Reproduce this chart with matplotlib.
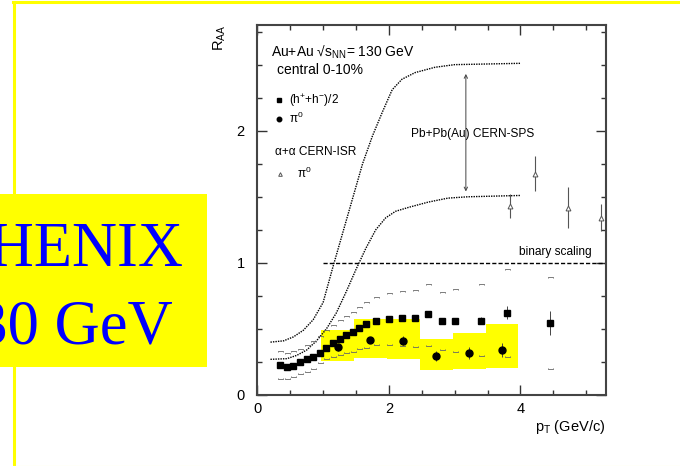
import numpy as np
import matplotlib
matplotlib.use("Agg")
import matplotlib.pyplot as plt
from matplotlib.path import Path
from matplotlib.patches import Rectangle
from matplotlib.lines import Line2D

plt.rcParams['font.family'] = ['Liberation Sans', 'DejaVu Sans']
plt.rcParams['mathtext.fontset'] = 'custom'
plt.rcParams['mathtext.rm'] = 'Liberation Sans'
plt.rcParams['mathtext.it'] = 'Liberation Sans:italic'
plt.rcParams['mathtext.sf'] = 'Liberation Sans'

# (h+ + h-)/2, central 0-10%
pt_h = [0.35, 0.45, 0.55, 0.65, 0.75, 0.85, 0.95, 1.05, 1.15, 1.25, 1.35, 1.45,
        1.55, 1.65, 1.8, 2.0, 2.2, 2.4, 2.6, 2.8, 3.0, 3.4, 3.8, 4.45]
raa_h = [0.224, 0.214, 0.222, 0.247, 0.270, 0.290, 0.320, 0.353, 0.390, 0.423, 0.453, 0.479,
         0.504, 0.537, 0.559, 0.574, 0.579, 0.579, 0.610, 0.557, 0.562, 0.562, 0.622, 0.547]
err_h = [0.005, 0.005, 0.005, 0.005, 0.005, 0.005, 0.005, 0.005, 0.005, 0.005, 0.005, 0.005,
         0.005, 0.005, 0.008, 0.01, 0.01, 0.012, 0.015, 0.015, 0.02, 0.025, 0.05, 0.09]
sys_hi_h = [0.335, 0.32, 0.33, 0.35, 0.38, 0.41, 0.45, 0.49, 0.53, 0.567, 0.597, 0.63,
            0.668, 0.705, 0.743, 0.769, 0.786, 0.794, 0.839, 0.779, 0.799, 0.839, 0.957, 0.89]
sys_lo_h = [0.118, 0.118, 0.138, 0.159, 0.176, 0.2, 0.24, 0.27, 0.29, 0.302, 0.315, 0.327,
            0.345, 0.353, 0.378, 0.378, 0.373, 0.365, 0.373, 0.34, 0.327, 0.295, 0.285, 0.2]

# pi0
pt_pi = [1.22, 1.72, 2.22, 2.72, 3.22, 3.72]
raa_pi = [0.36, 0.415, 0.41, 0.295, 0.315, 0.34]
err_pi = [0.025, 0.02, 0.035, 0.04, 0.045, 0.05]
box_lo_pi = [0.257, 0.282, 0.272, 0.189, 0.199, 0.204]
box_hi_pi = [0.491, 0.572, 0.572, 0.423, 0.471, 0.537]

# alpha+alpha CERN-ISR pi0
pt_isr = [3.84, 4.22, 4.72, 5.23]
raa_isr = [1.43, 1.676, 1.418, 1.342]
err_isr = [0.092, 0.135, 0.155, 0.1]

# Pb+Pb(Au) CERN-SPS band edges
pt_sps_up = [0.2, 0.4, 0.55, 0.7, 0.85, 1.0, 1.15, 1.3, 1.45, 1.6, 1.75, 1.9, 2.05, 2.2,
             2.4, 2.7, 3.0, 3.5, 4.0]
raa_sps_up = [0.40, 0.41, 0.44, 0.49, 0.57, 0.70, 0.97, 1.23, 1.49, 1.75, 1.96, 2.14, 2.31, 2.39,
              2.44, 2.48, 2.50, 2.505, 2.51]
pt_sps_lo = [0.2, 0.45, 0.6, 0.75, 0.9, 1.05, 1.2, 1.35, 1.5, 1.65, 1.8, 1.95, 2.1, 2.3,
             2.6, 2.9, 3.2, 3.6, 4.0]
raa_sps_lo = [0.27, 0.275, 0.30, 0.34, 0.41, 0.50, 0.62, 0.78, 0.95, 1.11, 1.25, 1.34, 1.39, 1.42,
              1.46, 1.49, 1.50, 1.505, 1.51]
arrow_pt = 3.17
arrow_top, arrow_bot = 2.43, 1.54

binary_from = 1.0
xmax, ymax = 5.3, 2.8

W, H = 680, 466
fig = plt.figure(figsize=(6.8, 4.66), dpi=100)


def fx(px):
    return px / W


def fy(py):
    return 1 - py / H


# yellow frame and title block
fig.add_artist(Line2D([fx(13.5), fx(13.5)], [fy(1.5), fy(466)], color='yellow', lw=2.2))
fig.add_artist(Line2D([fx(12.5), fx(690)], [fy(2), fy(2)], color='yellow', lw=2.2))
fig.add_artist(Line2D([fx(12.5), fx(690)], [fy(465.5), fy(465.5)], color='#ffff99', lw=0.8))
fig.add_artist(Rectangle((fx(-10), fy(367)), fx(217), 173 / H, color='yellow', lw=0))
fig.text(fx(183), fy(266), 'PHENIX', family='Liberation Serif', color='#0000ff',
         fontsize=45, ha='right', va='baseline')
fig.text(fx(173), fy(343), '130 GeV', family='Liberation Serif', color='#0000ff',
         fontsize=45, ha='right', va='baseline')

ax = fig.add_axes([fx(257.3), fy(395), fx(606 - 257.3), (395 - 25) / H])
ax.set_xlim(0, xmax)
ax.set_ylim(0, ymax)

ax.bar(pt_pi, np.array(box_hi_pi) - np.array(box_lo_pi), bottom=box_lo_pi, width=0.5,
       color='yellow', lw=0, zorder=1)

ax.plot(pt_sps_up, raa_sps_up, color='black', ls=(0, (1, 0.8)), lw=1.0, zorder=2)
ax.plot(pt_sps_lo, raa_sps_lo, color='black', ls=(0, (1, 0.8)), lw=1.0, zorder=2)
ax.annotate('', xy=(arrow_pt, arrow_top), xytext=(arrow_pt, arrow_bot),
            arrowprops=dict(arrowstyle='<->', color='#444444', lw=0.7,
                            shrinkA=0, shrinkB=0, mutation_scale=6))
ax.plot([binary_from, xmax], [1, 1], color='black', ls=(0, (3, 1.5)), lw=1.0, zorder=2)

# small open brackets for the systematic errors of the charged hadrons
cap_up = Path([(-1, -0.45), (-1, 0.0), (1, 0.0), (1, -0.45)],
              [Path.MOVETO, Path.LINETO, Path.LINETO, Path.LINETO])
cap_lo = Path([(-1, 0.45), (-1, 0.0), (1, 0.0), (1, 0.45)],
              [Path.MOVETO, Path.LINETO, Path.LINETO, Path.LINETO])
ax.plot(pt_h, sys_hi_h, ls='none', marker=cap_up, ms=3.6, mfc='none', mec='#666666',
        mew=0.6, zorder=3)
ax.plot(pt_h, sys_lo_h, ls='none', marker=cap_lo, ms=3.6, mfc='none', mec='#666666',
        mew=0.6, zorder=3)

hh = ax.errorbar(pt_h, raa_h, yerr=err_h, fmt='s', color='black', ms=4.6, elinewidth=0.7,
                 ecolor='#444444', capsize=0, zorder=4)
hp = ax.errorbar(pt_pi, raa_pi, yerr=err_pi, fmt='o', color='black', ms=5, elinewidth=0.7,
                 ecolor='#444444', capsize=0, zorder=4)
hi = ax.errorbar(pt_isr, raa_isr, yerr=err_isr, fmt='^', mfc='white', mec='#555555', ms=3.5,
                 mew=0.7, elinewidth=0.8, ecolor='#555555', capsize=0, zorder=4)

ax.set_xticks([0, 2, 4])
ax.set_yticks([0, 1, 2])
ax.xaxis.set_minor_locator(matplotlib.ticker.MultipleLocator(0.5))
ax.yaxis.set_minor_locator(matplotlib.ticker.MultipleLocator(0.25))
ax.tick_params(which='both', direction='in', top=True, right=True, color='#333333',
               labelsize=10.5)
ax.tick_params(which='major', length=7, width=1)
ax.tick_params(which='minor', length=3.5, width=1)
ax.tick_params(axis='y', pad=9)
ax.tick_params(axis='x', pad=5)
for s in ax.spines.values():
    s.set_color('#444444')
    s.set_linewidth(1.5)

fig.text(fx(220), fy(38), 'R$_{\\rm AA}$', rotation=90, fontsize=10.5, ha='center', va='center')
fig.text(fx(605), fy(430.7), 'p$_{\\rm T}$ (GeV/c)', fontsize=10.5, ha='right', va='baseline')

ax.text(0.208, 2.562, 'Au+Au \u221as$_{\\rm NN}$= 130 GeV', fontsize=10, va='baseline')
ax.text(0.30, 2.426, 'central 0-10%', fontsize=10, va='baseline')
ax.text(2.33, 1.952, 'Pb+Pb(Au) CERN-SPS', fontsize=8.6, va='baseline')
ax.text(3.98, 1.058, 'binary scaling', fontsize=8.6, va='baseline')

leg1 = ax.legend([hh[0], hp[0]], ['(h$^{+}$+h$^{-}$)/2', '\u03c0$^{0}$'], loc='upper left',
                 bbox_to_anchor=(0.03, 0.835), frameon=False, fontsize=8.6, borderpad=0,
                 handlelength=0.8, handletextpad=0.5, labelspacing=0.15, markerscale=0.65)
ax.add_artist(leg1)
ax.legend([hi[0]], ['\u03c0$^{0}$'], title='\u03b1+\u03b1 CERN-ISR', title_fontsize=8.6,
          alignment='left', loc='upper left', bbox_to_anchor=(0.035, 0.69), frameon=False,
          fontsize=8.6, borderpad=0, handlelength=0.8, handletextpad=1.0,
          labelspacing=0.7, markerscale=0.75)

fig.savefig('out.png', dpi=100)
